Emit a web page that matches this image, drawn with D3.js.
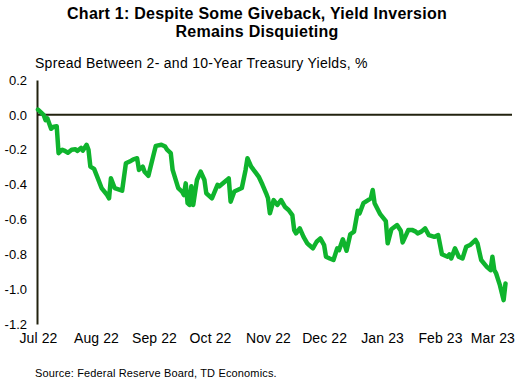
<!DOCTYPE html>
<html>
<head>
<meta charset="utf-8">
<script src="https://cdn.jsdelivr.net/npm/d3@7"></script>
<style>
  html, body { margin: 0; padding: 0; background: #fff; }
  svg { display: block; font-family: "Liberation Sans", Arial, sans-serif; }
</style>
</head>
<body>
<svg id="chart" width="517" height="386"></svg>
<script>
// ---- Data ----
const titleLines = ["Chart 1: Despite Some Giveback, Yield Inversion", "Remains Disquieting"];
const subtitle = "Spread Between 2- and 10-Year Treasury Yields, %";
const source = "Source: Federal Reserve Board, TD Economics.";

const dates = [
  "2022-07-01","2022-07-04","2022-07-05","2022-07-06","2022-07-08","2022-07-09","2022-07-11","2022-07-12",
  "2022-07-14","2022-07-15","2022-07-17","2022-07-19","2022-07-21","2022-07-22","2022-07-24","2022-07-25",
  "2022-07-27","2022-07-28","2022-07-29","2022-07-31","2022-08-02","2022-08-04","2022-08-07","2022-08-08",
  "2022-08-09","2022-08-11","2022-08-13","2022-08-15","2022-08-17","2022-08-19","2022-08-21","2022-08-23",
  "2022-08-24","2022-08-26","2022-08-27","2022-08-29","2022-09-01","2022-09-02","2022-09-05","2022-09-07",
  "2022-09-08","2022-09-10","2022-09-11","2022-09-14","2022-09-16","2022-09-17","2022-09-18","2022-09-19",
  "2022-09-20","2022-09-21","2022-09-22","2022-09-24","2022-09-26","2022-09-28","2022-09-29","2022-10-02",
  "2022-10-05","2022-10-06","2022-10-10","2022-10-11","2022-10-12","2022-10-14","2022-10-18","2022-10-20",
  "2022-10-21","2022-10-23","2022-10-25","2022-10-27","2022-10-29","2022-10-31","2022-11-01","2022-11-02",
  "2022-11-04","2022-11-06","2022-11-08","2022-11-10","2022-11-12","2022-11-14","2022-11-15","2022-11-16",
  "2022-11-18","2022-11-20","2022-11-22","2022-11-23","2022-11-25","2022-11-27","2022-11-29","2022-12-01",
  "2022-12-02","2022-12-04","2022-12-06","2022-12-08","2022-12-09","2022-12-11","2022-12-13","2022-12-15",
  "2022-12-17","2022-12-19","2022-12-20","2022-12-22","2022-12-26","2022-12-27","2022-12-28","2022-12-31",
  "2023-01-03","2023-01-04","2023-01-06","2023-01-09","2023-01-11","2023-01-12","2023-01-15","2023-01-17",
  "2023-01-19","2023-01-20","2023-01-22","2023-01-24","2023-01-26","2023-01-29","2023-01-31","2023-02-02",
  "2023-02-05","2023-02-06","2023-02-07","2023-02-09","2023-02-11","2023-02-13","2023-02-15","2023-02-17",
  "2023-02-20","2023-02-21","2023-02-23","2023-02-26","2023-02-28","2023-03-01","2023-03-02","2023-03-03",
  "2023-03-05","2023-03-07","2023-03-08"
];
const spread = [
  0.03, 0.00, -0.03, -0.02, -0.08, -0.07, -0.065, -0.22,
  -0.20, -0.205, -0.217, -0.20, -0.197, -0.207, -0.19, -0.205,
  -0.172, -0.20, -0.297, -0.31, -0.364, -0.42, -0.46, -0.479,
  -0.364, -0.42, -0.427, -0.435, -0.278, -0.268, -0.255, -0.249,
  -0.316, -0.297, -0.326, -0.35, -0.22, -0.178, -0.172, -0.182,
  -0.20, -0.22, -0.316, -0.42, -0.44, -0.46, -0.393, -0.507,
  -0.517, -0.41, -0.517, -0.374, -0.326, -0.374, -0.45, -0.479,
  -0.402, -0.41, -0.374, -0.364, -0.498, -0.44, -0.42, -0.316,
  -0.249, -0.297, -0.326, -0.354, -0.40, -0.45, -0.479, -0.565,
  -0.489, -0.517, -0.489, -0.527, -0.546, -0.575, -0.661, -0.68,
  -0.651, -0.70, -0.737, -0.747, -0.766, -0.728, -0.709, -0.747,
  -0.814, -0.824, -0.833, -0.766, -0.776, -0.714, -0.78, -0.685,
  -0.67, -0.55, -0.565, -0.507, -0.479, -0.431, -0.507, -0.57,
  -0.61, -0.737, -0.656, -0.632, -0.665, -0.732, -0.661, -0.66,
  -0.67, -0.68, -0.67, -0.651, -0.69, -0.70, -0.69, -0.80,
  -0.814, -0.80, -0.824, -0.766, -0.814, -0.824, -0.757, -0.747,
  -0.718, -0.737, -0.833, -0.872, -0.891, -0.814, -0.891, -0.91,
  -0.977, -1.063, -0.967
];
const yTicks = [0.2, 0.0, -0.2, -0.4, -0.6, -0.8, -1.0, -1.2];
const xTickDates = ["2022-07-01","2022-08-01","2022-09-01","2022-10-01","2022-11-01","2022-12-01","2023-01-01","2023-02-01","2023-03-01"];
const xTickLabels = ["Jul 22","Aug 22","Sep 22","Oct 22","Nov 22","Dec 22","Jan 23","Feb 23","Mar 23"];

// ---- Drawing ----
const parse = d3.timeParse("%Y-%m-%d");
const data = dates.map((d, i) => ({ date: parse(d), value: spread[i] }));

const svg = d3.select("#chart");
const axisColor = "#22220f";
const lineColor = "#0fb42d";

const x = d3.scaleTime()
  .domain([parse("2022-07-01"), parse("2023-03-09")])
  .range([38, 38 + 251 * 1.87]);
const y = d3.scaleLinear().domain([-1.2, 0.2]).range([324, 80]);

// Title
svg.append("g").selectAll("text").data(titleLines).join("text")
  .attr("x", 257).attr("y", (d, i) => 19 + i * 18)
  .attr("text-anchor", "middle")
  .attr("font-weight", "bold").attr("font-size", 16)
  .attr("letter-spacing", 0.25)
  .attr("fill", "#000")
  .text(d => d);

svg.append("text").attr("x", 35).attr("y", 68)
  .attr("font-size", 14).attr("letter-spacing", 0.28)
  .attr("fill", "#000").text(subtitle);

// Y axis labels
const yAxis = d3.axisLeft(y).tickValues(yTicks).tickSize(0).tickPadding(10)
  .tickFormat(d3.format(".1f"));
const gy = svg.append("g").attr("transform", "translate(37,0)").call(yAxis);
gy.select(".domain").attr("stroke", axisColor).attr("stroke-width", 2);
gy.selectAll("text").attr("font-size", 13).attr("fill", "#000")
  .attr("font-family", "Liberation Sans, Arial, sans-serif")
  .text(d => d3.format(".1f")(d).replace("−", "-"));

// X axis labels
const xAxis = d3.axisBottom(x).tickValues(xTickDates.map(parse)).tickSize(0).tickPadding(0)
  .tickFormat((d, i) => xTickLabels[i]);
const gx = svg.append("g").attr("transform", "translate(0,330)").call(xAxis);
gx.select(".domain").remove();
gx.selectAll("text").attr("font-size", 14).attr("fill", "#000")
  .attr("letter-spacing", 0.1)
  .attr("font-family", "Liberation Sans, Arial, sans-serif").attr("dy", "0.9em");

// Zero line
svg.append("line")
  .attr("x1", 37).attr("x2", 512)
  .attr("y1", y(0)).attr("y2", y(0))
  .attr("stroke", axisColor).attr("stroke-width", 2);

// Series line
const line = d3.line().x(d => x(d.date)).y(d => y(d.value));
svg.append("path").datum(data)
  .attr("fill", "none").attr("stroke", lineColor)
  .attr("stroke-width", 4.5).attr("stroke-linejoin", "round").attr("stroke-linecap", "round")
  .attr("d", line);

// Source
svg.append("text").attr("x", 35).attr("y", 377)
  .attr("font-size", 11).attr("letter-spacing", 0.15)
  .attr("fill", "#000").text(source);
</script>
</body>
</html>
